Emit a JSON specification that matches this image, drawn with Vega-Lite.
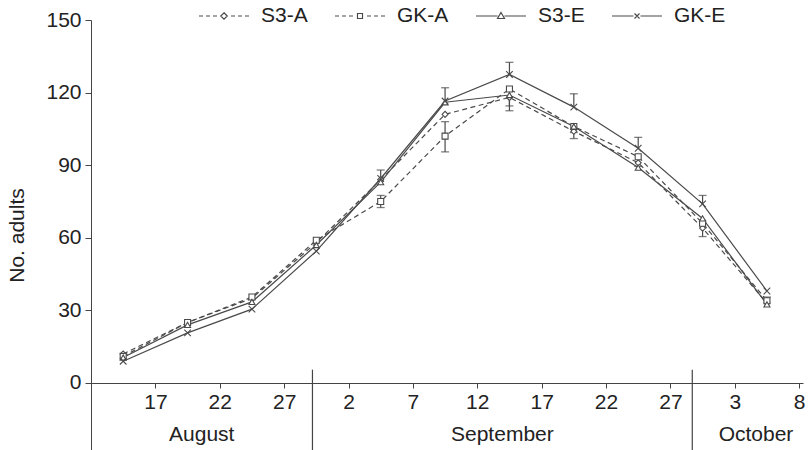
{
  "$schema": "https://vega.github.io/schema/vega-lite/v6.json",
  "autosize": {"type": "none"},
  "padding": {"left": 91, "top": 20, "right": 5, "bottom": 0},
  "width": 712,
  "height": 430,
  "background": "white",
  "config": {
    "view": {"stroke": null},
    "font": "Liberation Sans",
    "axis": {"labelFont": "Liberation Sans", "titleFont": "Liberation Sans", "labelFontSize": 21, "titleFontSize": 21, "labelColor": "#222", "titleColor": "#222", "domainColor": "#444", "tickColor": "#444", "grid": false, "titleFontWeight": "normal"}
  },
  "resolve": {"scale": {"shape": "independent"}, "legend": {"shape": "independent"}},
  "datasets": {
    "series": [
      {"series": "S3-A", "t": -2.5, "adults": 12}, {"series": "S3-A", "t": 2.5, "adults": 25}, {"series": "S3-A", "t": 7.5, "adults": 35}, {"series": "S3-A", "t": 12.5, "adults": 58}, {"series": "S3-A", "t": 17.5, "adults": 84}, {"series": "S3-A", "t": 22.5, "adults": 111}, {"series": "S3-A", "t": 27.5, "adults": 118}, {"series": "S3-A", "t": 32.5, "adults": 104}, {"series": "S3-A", "t": 37.5, "adults": 91}, {"series": "S3-A", "t": 42.5, "adults": 64}, {"series": "S3-A", "t": 47.5, "adults": 33},
      {"series": "GK-A", "t": -2.5, "adults": 11}, {"series": "GK-A", "t": 2.5, "adults": 25}, {"series": "GK-A", "t": 7.5, "adults": 35.5}, {"series": "GK-A", "t": 12.5, "adults": 59}, {"series": "GK-A", "t": 17.5, "adults": 75}, {"series": "GK-A", "t": 22.5, "adults": 102}, {"series": "GK-A", "t": 27.5, "adults": 121.5}, {"series": "GK-A", "t": 32.5, "adults": 106}, {"series": "GK-A", "t": 37.5, "adults": 93.5}, {"series": "GK-A", "t": 42.5, "adults": 66}, {"series": "GK-A", "t": 47.5, "adults": 34},
      {"series": "S3-E", "t": -2.5, "adults": 10.5}, {"series": "S3-E", "t": 2.5, "adults": 24}, {"series": "S3-E", "t": 7.5, "adults": 33.5}, {"series": "S3-E", "t": 12.5, "adults": 57}, {"series": "S3-E", "t": 17.5, "adults": 83}, {"series": "S3-E", "t": 22.5, "adults": 116}, {"series": "S3-E", "t": 27.5, "adults": 119}, {"series": "S3-E", "t": 32.5, "adults": 106}, {"series": "S3-E", "t": 37.5, "adults": 89}, {"series": "S3-E", "t": 42.5, "adults": 68}, {"series": "S3-E", "t": 47.5, "adults": 32.5},
      {"series": "GK-E", "t": -2.5, "adults": 9}, {"series": "GK-E", "t": 2.5, "adults": 20.7}, {"series": "GK-E", "t": 7.5, "adults": 30.5}, {"series": "GK-E", "t": 12.5, "adults": 54.5}, {"series": "GK-E", "t": 17.5, "adults": 84.5}, {"series": "GK-E", "t": 22.5, "adults": 116.5}, {"series": "GK-E", "t": 27.5, "adults": 127.5}, {"series": "GK-E", "t": 32.5, "adults": 114}, {"series": "GK-E", "t": 37.5, "adults": 97}, {"series": "GK-E", "t": 42.5, "adults": 74}, {"series": "GK-E", "t": 47.5, "adults": 38}
    ],
    "errors": [
      {"series": "GK-E", "t": 17.5, "adults": 84.5, "bound": 88}, {"series": "GK-E", "t": 22.5, "adults": 116.5, "bound": 122}, {"series": "GK-E", "t": 27.5, "adults": 127.5, "bound": 132.5}, {"series": "GK-E", "t": 32.5, "adults": 114, "bound": 119.5}, {"series": "GK-E", "t": 37.5, "adults": 97, "bound": 101.5}, {"series": "GK-E", "t": 42.5, "adults": 74, "bound": 77.5},
      {"series": "GK-A", "t": 17.5, "adults": 75, "bound": 72.5}, {"series": "GK-A", "t": 17.5, "adults": 75, "bound": 77.5}, {"series": "GK-A", "t": 22.5, "adults": 102, "bound": 95.5}, {"series": "GK-A", "t": 22.5, "adults": 102, "bound": 108}, {"series": "GK-A", "t": 47.5, "adults": 34, "bound": 35.5},
      {"series": "S3-A", "t": 27.5, "adults": 118, "bound": 112.5}, {"series": "S3-A", "t": 32.5, "adults": 104, "bound": 101}, {"series": "S3-A", "t": 37.5, "adults": 91, "bound": 89.5}, {"series": "S3-A", "t": 42.5, "adults": 64, "bound": 60.5},
      {"series": "S3-E", "t": 27.5, "adults": 119, "bound": 114.5}, {"series": "S3-E", "t": 32.5, "adults": 106, "bound": 103.5}
    ],
    "months": [
      {"month": "August", "start": -5, "end": 12.2},
      {"month": "September", "start": 12.2, "end": 41.7},
      {"month": "October", "start": 41.7, "end": 51.6}
    ]
  },
  "layer": [
    {
      "data": {"name": "series"},
      "transform": [{"filter": "datum.series === 'S3-A' || datum.series === 'GK-A'"}],
      "mark": {"type": "line", "color": "#4a4a4a", "strokeWidth": 1.2, "strokeDash": [5, 3.5]},
      "encoding": {
        "x": {"field": "t", "type": "quantitative", "scale": {"domain": [-5, 50.3], "nice": false, "zero": false},
              "axis": {"title": null, "values": [0, 5, 10, 15, 20, 25, 30, 35, 40, 45, 50], "labelExpr": "['17','22','27','2','7','12','17','22','27','3','8'][round(datum.value/5)]", "offset": -67, "tickSize": 5, "labelPadding": 3, "labelFlush": false}},
        "y": {"field": "adults", "type": "quantitative", "scale": {"domain": [-27.7, 150], "nice": false, "zero": false},
              "axis": {"title": "No. adults", "values": [0, 30, 60, 90, 120, 150], "tickSize": 6, "labelPadding": 4, "titlePadding": 18}},
        "detail": {"field": "series", "type": "nominal"}
      }
    },
    {
      "data": {"name": "series"},
      "transform": [{"filter": "datum.series === 'S3-E' || datum.series === 'GK-E'"}],
      "mark": {"type": "line", "color": "#4a4a4a", "strokeWidth": 1.2},
      "encoding": {
        "x": {"field": "t", "type": "quantitative"},
        "y": {"field": "adults", "type": "quantitative"},
        "detail": {"field": "series", "type": "nominal"}
      }
    },
    {
      "data": {"name": "errors"},
      "mark": {"type": "rule", "color": "#4a4a4a", "strokeWidth": 1.2},
      "encoding": {
        "x": {"field": "t", "type": "quantitative"},
        "y": {"field": "adults", "type": "quantitative"},
        "y2": {"field": "bound"}
      }
    },
    {
      "data": {"name": "errors"},
      "mark": {"type": "tick", "orient": "horizontal", "color": "#4a4a4a", "size": 8, "thickness": 1.3},
      "encoding": {
        "x": {"field": "t", "type": "quantitative"},
        "y": {"field": "bound", "type": "quantitative"}
      }
    },
    {
      "data": {"name": "series"},
      "mark": {"type": "point", "filled": false, "fill": "white", "fillOpacity": 1, "stroke": "#4a4a4a", "strokeWidth": 1.1, "size": 36, "opacity": 1},
      "encoding": {
        "x": {"field": "t", "type": "quantitative"},
        "y": {"field": "adults", "type": "quantitative"},
        "shape": {"field": "series", "type": "nominal",
          "scale": {"domain": ["S3-A", "GK-A", "S3-E", "GK-E"], "range": ["diamond", "square", "triangle-up", "M-1.1,-1.1L1.1,1.1M1.1,-1.1L-1.1,1.1"]},
          "legend": null
        }
      }
    },
    {
      "data": {"name": "series"},
      "transform": [{"filter": "false"}],
      "mark": {"type": "point", "filled": false, "stroke": "#4a4a4a", "strokeWidth": 1.2, "opacity": 1},
      "encoding": {
        "x": {"field": "t", "type": "quantitative"},
        "y": {"field": "adults", "type": "quantitative"},
        "shape": {"field": "series", "type": "nominal",
          "scale": {"domain": ["S3-A", "GK-A", "S3-E", "GK-E"], "range": [
            "M-1,0H-0.84M-0.72,0H-0.56M-0.44,0H-0.28M0.28,0H0.44M0.56,0H0.72M0.84,0H1M0,-0.13L0.13,0L0,0.13L-0.13,0Z",
            "M-1,0H-0.84M-0.72,0H-0.56M-0.44,0H-0.28M0.28,0H0.44M0.56,0H0.72M0.84,0H1M-0.1,-0.1H0.1V0.1H-0.1Z",
            "M-1,0H-0.14M0.14,0H1M0,-0.14L0.14,0.1L-0.14,0.1Z",
            "M-1,0H-0.14M0.14,0H1M-0.1,-0.1L0.1,0.1M0.1,-0.1L-0.1,0.1"]},
          "legend": {
            "title": null, "orient": "none", "direction": "horizontal", "legendX": 107, "legendY": -30, "padding": 0,
            "symbolSize": 2500, "symbolStrokeWidth": 1.2, "symbolStrokeColor": "#4a4a4a", "symbolFillColor": "transparent",
            "labelFontSize": 21, "labelFont": "Liberation Sans", "labelColor": "#222", "labelOffset": 11, "columnPadding": 24
          }
        }
      }
    },
    {
      "data": {"name": "months"},
      "transform": [{"filter": "datum.start > -5"}],
      "mark": {"type": "rule", "color": "#444", "strokeWidth": 1.2},
      "encoding": {
        "x": {"field": "start", "type": "quantitative"},
        "y": {"datum": -27.7, "type": "quantitative"},
        "y2": {"datum": 5.5}
      }
    },
    {
      "data": {"name": "months"},
      "transform": [{"calculate": "(datum.start + datum.end) / 2", "as": "mid"}],
      "mark": {"type": "text", "fontSize": 21, "font": "Liberation Sans", "color": "#222", "baseline": "middle", "align": "center"},
      "encoding": {
        "x": {"field": "mid", "type": "quantitative"},
        "y": {"datum": -21.5, "type": "quantitative"},
        "text": {"field": "month"}
      }
    }
  ]
}
